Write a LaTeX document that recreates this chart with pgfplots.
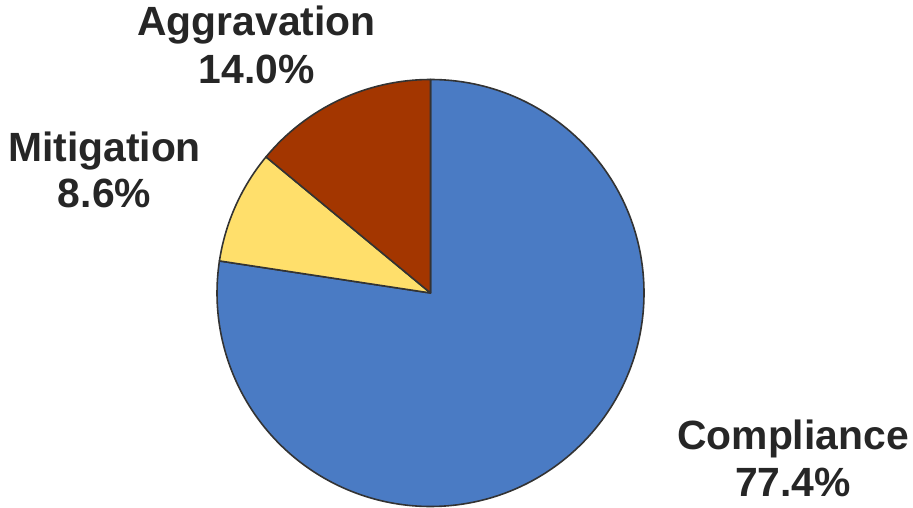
\documentclass[border=0pt]{standalone}
\usepackage{pgfplots}
\pgfplotsset{compat=1.18}
\usepackage{fontspec}
\setmainfont{Liberation Sans}
\definecolor{cblue}{HTML}{4A7BC4}
\definecolor{cyellow}{HTML}{FFDF6B}
\definecolor{cred}{HTML}{A33600}
\definecolor{cedge}{HTML}{333333}
\definecolor{ctext}{HTML}{262626}
% shares in percent
\def\pCompliance{77.4}
\def\pMitigation{8.6}
\def\pAggravation{14.0}
\begin{document}
\begin{tikzpicture}
\begin{axis}[
  width=913bp, height=508bp, scale only axis,
  xmin=0, xmax=913, ymin=0, ymax=508,
  hide axis, clip=false,
]
\path (axis cs:0,0) rectangle (axis cs:913,508);
\pgfmathsetmacro{\aA}{90}
\pgfmathsetmacro{\aB}{90-3.6*\pCompliance}
\pgfmathsetmacro{\aC}{\aB-3.6*\pMitigation}
\pgfmathsetmacro{\aD}{\aC-3.6*\pAggravation}
\begin{scope}[line width=1.6pt, draw=cedge, line join=round]
\filldraw[fill=cblue] (axis cs:430.5,215) -- ++(\aA:213.5bp) arc[start angle=\aA, end angle=\aB, radius=213.5bp] -- cycle;
\filldraw[fill=cyellow] (axis cs:430.5,215) -- ++(\aB+360:213.5bp) arc[start angle=\aB+360, end angle=\aC+360, radius=213.5bp] -- cycle;
\filldraw[fill=cred] (axis cs:430.5,215) -- ++(\aC+360:213.5bp) arc[start angle=\aC+360, end angle=\aD+360, radius=213.5bp] -- cycle;
\end{scope}
\begin{scope}[every node/.style={anchor=base, inner sep=0pt, text=ctext, font=\fontsize{41}{48}\selectfont\bfseries}]
\node at (axis cs:256.5,472) {Aggravation};
\node at (axis cs:256.5,424) {14.0\%};
\node at (axis cs:104.5,346) {Mitigation};
\node at (axis cs:104.5,300) {8.6\%};
\node at (axis cs:793,58) {Compliance};
\node at (axis cs:793,12) {77.4\%};
\end{scope}
\end{axis}
\end{tikzpicture}
\end{document}
